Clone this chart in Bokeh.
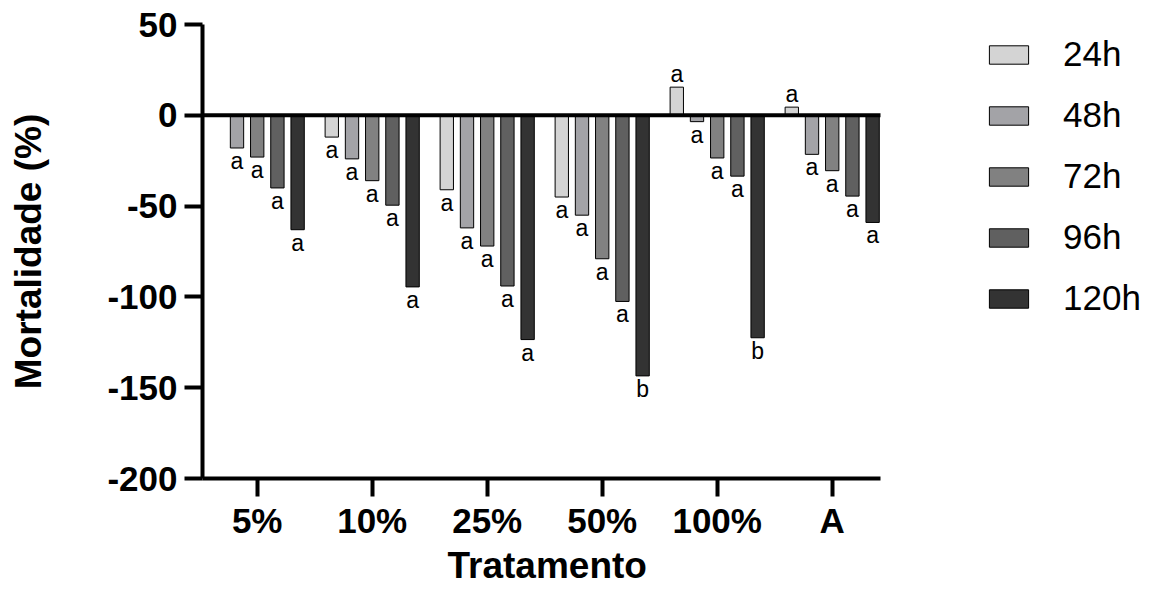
import math
import numpy as np
from bokeh.plotting import figure
from bokeh.models import Legend, LegendItem, FixedTicker, ColumnDataSource, Range1d, Title
from bokeh.embed import file_html
from bokeh.resources import INLINE

# ---------------- data ----------------
categories = ["5%", "10%", "25%", "50%", "100%", "A"]
series = ["24h", "48h", "72h", "96h", "120h"]
nan = float("nan")
v24 = [nan, -12, -41, -45, 15.5, 4.5]
v48 = [-18, -24, -62, -55, -3.5, -21.5]
v72 = [-23, -36, -72, -79, -23.5, -30.5]
v96 = [-40, -49.5, -94, -102.5, -33.5, -44.5]
v120 = [-63, -94.5, -123.5, -143.5, -122.5, -59]
l24 = ["", "a", "a", "a", "a", "a"]
l48 = ["a", "a", "a", "a", "a", "a"]
l72 = ["a", "a", "a", "a", "a", "a"]
l96 = ["a", "a", "a", "a", "a", "a"]
l120 = ["a", "a", "a", "b", "b", "a"]
y_ticks = [-200, -150, -100, -50, 0, 50]
y_tick_labels = ["-200", "-150", "-100", "-50", "0", "50"]
x_title = "Tratamento"
y_title = "Mortalidade (%)"

values = [v24, v48, v72, v96, v120]
letters = [l24, l48, l72, l96, l120]
colors = ["#d4d4d4", "#a3a3a7", "#818181", "#606060", "#333333"]

FONT = "Liberation Sans"

W, H = 1150, 590
LEFT, TOP, BOTTOM = 202, 24, 112
PX_PER_GROUP = 115.0
X_LO = -0.4757         # left end of the x axis (category units)
X_HI = 5.42            # right end of the x axis
X_VIEW_HI = X_LO + (W - LEFT) / PX_PER_GROUP   # frame continues under the legend

p = figure(width=W, height=H, output_backend="svg", toolbar_location=None,
           x_range=Range1d(X_LO, X_VIEW_HI), y_range=Range1d(-200, 50),
           min_border_left=LEFT, min_border_right=0, min_border_top=TOP, min_border_bottom=BOTTOM)
p.outline_line_color = None
p.grid.visible = False
p.background_fill_color = "white"

step = 0.1757
width = 0.116
items = []
for i, (s, vals, labs, col) in enumerate(zip(series, values, letters, colors)):
    off = (i - 2) * step
    xs = [k + off for k in range(len(categories))]
    src = ColumnDataSource(dict(x=xs, top=vals, cat=categories))
    r = p.vbar(x="x", top="top", bottom=0, width=width, source=src,
               fill_color=col, line_color="#000000", line_width=1)
    items.append(LegendItem(label=s, renderers=[r]))
    neg = dict(x=[], y=[], t=[])
    pos = dict(x=[], y=[], t=[])
    for x, v, t in zip(xs, vals, labs):
        if t == "" or math.isnan(v):
            continue
        d = neg if v < 0 else pos
        d["x"].append(x); d["y"].append(v); d["t"].append(t)
    p.text(x="x", y="y", text="t", source=ColumnDataSource(neg), text_align="center",
           text_baseline="top", y_offset=0, text_font_size="23px", text_color="black",
           text_font={"value": FONT})
    p.text(x="x", y="y", text="t", source=ColumnDataSource(pos), text_align="center",
           text_baseline="bottom", y_offset=0, text_font_size="23px", text_color="black",
           text_font={"value": FONT})

# zero reference line, spanning the x axis extent only
p.segment(x0=[X_LO], x1=[X_HI], y0=[0], y1=[0], line_color="black", line_width=4)

legend = Legend(items=items, location=(782, 160), glyph_width=49, glyph_height=23,
                label_standoff=30, spacing=21, padding=0, margin=0,
                border_line_color=None, background_fill_alpha=0,
                label_text_font_size="35px", label_text_font=FONT, label_text_color="black")
p.add_layout(legend)

for ax in (p.xaxis, p.yaxis):
    ax.axis_line_width = 4
    ax.axis_line_color = "black"
    ax.major_tick_line_width = 4
    ax.major_tick_line_color = "black"
    ax.major_tick_out = 18
    ax.major_tick_in = 0
    ax.minor_tick_line_color = None
    ax.major_label_text_font = FONT
    ax.major_label_text_font_style = "bold"
    ax.major_label_text_font_size = "35px"
    ax.major_label_text_color = "black"
    ax.axis_label_text_font = FONT
    ax.axis_label_text_font_style = "bold"
    ax.axis_label_text_font_size = "37px"
    ax.axis_label_text_color = "black"

p.xaxis.bounds = (X_LO, X_HI)
p.xaxis.ticker = FixedTicker(ticks=list(range(len(categories))))
p.xaxis.major_label_overrides = {i: c for i, c in enumerate(categories)}
p.xaxis.major_label_standoff = 4

# x-axis title, centred under the axis extent (not under the legend area)
p.add_layout(Title(text=x_title, align="left", offset=245, standoff=0,
                   text_font=FONT, text_font_style="bold", text_font_size="37px",
                   text_color="black"), "below")

p.yaxis.ticker = FixedTicker(ticks=y_ticks)
p.yaxis.major_label_overrides = {t: l for t, l in zip(y_ticks, y_tick_labels)}
p.yaxis.axis_label = y_title
p.yaxis.major_label_standoff = 7
p.yaxis.axis_label_standoff = 55

open("out.html", "w").write(file_html(p, INLINE))
